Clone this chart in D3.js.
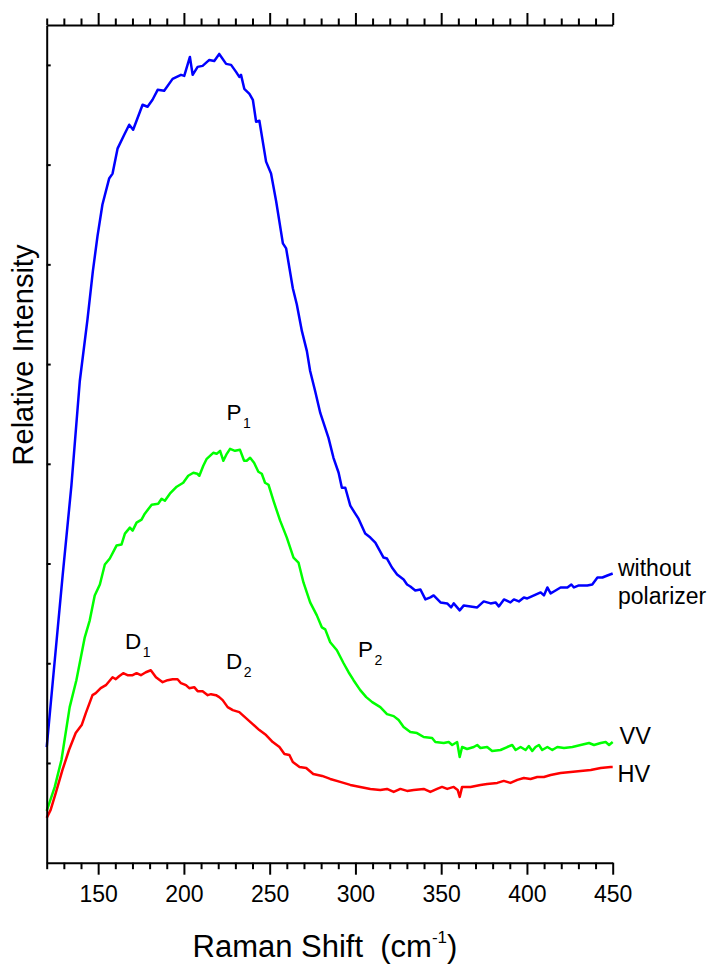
<!DOCTYPE html>
<html><head><meta charset="utf-8">
<script src="https://cdn.jsdelivr.net/npm/d3@7"></script>
<style>body{margin:0;background:#fff}svg{display:block}</style>
</head><body><svg id="c" width="712" height="964"></svg>
<script>
// Raman shift (cm^-1) and relative intensity (arb. units) for each spectrum
const blueShift = [120,124.7,129.3,134.4,139.3,143.8,146.9,149.6,152.5,156.4,158.4,161.3,165.2,168.1,170.4,175.9,178.8,181.7,184.7,188.5,193.4,198.3,200.2,203.5,205.1,208.0,210.9,214.8,217.7,220.6,224.6,227.5,230.4,232.3,233.3,235.2,238.2,240.2,242.1,244.0,247.9,250.8,253.8,257.7,259.6,263.5,265.8,268.8,271.7,273.6,276.5,279.5,284.3,287.2,290.2,292.1,294.1,297.0,299.9,301.8,305.7,308.7,311.6,316.4,318.4,321.3,324.3,328.1,330.1,332.0,334.9,337.9,340.8,343.7,345.6,349.6,353.5,355.8,357.3,360.8,363.2,367.1,371.0,374.8,378.8,381.7,383.6,386.6,390.4,392.4,395.3,398.2,400.2,404.1,408.0,409.9,411.9,413.8,415.7,419.6,423.6,425.9,427.4,430.3,435.2,438.1,441.1,444.0,446.9,450];
const blueInt = [116,203,288,378,483,545,593,628,660,686,691,716,730,740,735,760,758,765,775,774,786,790,789,808,790,798,799,805,804,811,801,800,793,788,790,776,771,765,743,744,703,691,663,621,616,576,560,533,513,493,473,451,426,406,391,376,376,358,350,345,330,326,321,306,305,296,289,284,279,277,273,274,264,266,268,261,260,256,260,253,258,257,256,262,260,261,257,264,261,264,262,266,265,268,271,268,276,270,272,276,276,279,276,278,278,279,286,286,288,290];

const greenShift = [120,124.7,128.6,133.4,137.3,142.2,145.1,148.0,151.0,153.9,156.8,160.7,163.6,165.6,168.5,170.1,172.4,175.3,177.2,181.2,185.0,187.0,188.9,191.8,195.8,199.6,202.5,205.5,207.8,209.0,211.3,213.3,217.1,219.1,221.1,223.0,225.0,226.9,229.8,232.7,235.1,236.6,238.6,240.9,243.4,245.4,247.3,249.3,252.2,256.1,260.0,263.9,266.8,269.7,273.6,277.5,280.4,282.4,285.3,289.2,293.1,296.0,298.9,302.8,306.3,309.8,314.5,318.4,322.3,325.2,328.1,332.0,335.9,339.8,344.7,346.6,351.5,354.4,356.4,359.3,360.8,362.2,365.1,369.0,371.0,372.9,376.8,379.7,384.6,388.5,391.4,393.4,396.3,399.2,401.1,403.1,405.0,407.0,408.9,411.9,414.8,417.7,421.6,426.5,431.3,436.2,439.1,443.0,445.9,447.9,450];
const greenInt = [52,76,103,156,183,226,243,268,279,299,305,318,319,330,336,333,341,344,350,359,360,365,363,370,377,381,388,391,390,388,398,405,411,410,413,403,410,415,413,414,403,403,406,401,392,390,381,379,363,343,326,306,301,281,261,248,236,234,221,213,200,191,183,173,166,161,156,149,147,143,136,131,130,126,125,121,120,121,118,121,106,116,114,116,118,115,116,112,113,116,118,113,116,113,117,112,116,118,113,116,113,116,115,116,118,120,118,120,121,118,121];

const redShift = [120,122.3,125.3,129.2,133.0,136.9,140.4,142.8,146.7,148.6,151.5,154.5,158.4,160.3,162.2,164.6,167.1,170.1,172.4,174.9,177.8,180.7,183.7,187.6,190.5,193.4,196.3,198.3,201.2,203.1,206.0,208.0,210.9,213.9,215.8,218.7,220.6,222.6,225.5,228.5,232.3,236.2,240.1,244.0,247.9,251.8,255.7,258.6,261.5,263.5,267.4,271.3,275.4,280.6,285.3,291.1,297.0,302.8,308.7,314.5,318.4,322.3,326.2,330.1,334.0,339.8,343.7,347.6,350.5,353.5,357.3,359.6,360.8,362.2,367.1,372.9,376.8,382.7,386.5,390.4,394.4,398.2,402.1,406.0,409.9,413.8,419.6,425.5,431.3,437.2,443.0,448.8,450];
const redInt = [45,53,70,93,113,130,138,150,168,170,175,178,186,184,187,190,188,188,190,188,191,193,186,181,183,184,184,180,178,175,176,172,172,168,169,168,166,163,156,153,151,145,139,133,128,121,116,109,108,101,96,95,89,87,84,81,78,76,74,73,74,71,74,72,73,74,71,74,76,74,76,73,66,76,76,78,79,80,82,80,83,85,84,86,86,88,90,91,92,93,95,96,96];

const seriesNames = ["without polarizer", "VV", "HV"];
const xTicks = d3.range(120, 451, 10);
const xTickLabels = [150, 200, 250, 300, 350, 400, 450];
const yTicks = [100, 200, 300, 400, 500, 600, 700, 800];
const xDomain = [120, 450];
const yDomain = [0, 840];

const FONT = "'Liberation Sans', Arial, sans-serif";
const svg = d3.select("#c");
svg.append("rect").attr("width", 712).attr("height", 964).attr("fill", "#fff");

const L = 46.7, R = 612.7, T = 25, B = 862.7;
const x = d3.scaleLinear().domain(xDomain).range([L, R]);
const y = d3.scaleLinear().domain(yDomain).range([B, T]);

const series = [
  {name: seriesNames[0], xs: blueShift, ys: blueInt, color: "#0000ff"},
  {name: seriesNames[1], xs: greenShift, ys: greenInt, color: "#00ff00"},
  {name: seriesNames[2], xs: redShift, ys: redInt, color: "#ff0000"}
];

const line = d3.line().x(d => x(d[0])).y(d => y(d[1]));
series.forEach(s => {
  const pts = s.xs.map((v, i) => [v, s.ys[i]]);
  svg.append("path").datum(pts).attr("d", line)
    .attr("fill", "none").attr("stroke", s.color)
    .attr("stroke-width", 2.5).attr("stroke-linejoin", "round");
});

// bottom axis
const isMajor = v => v % 50 === 0;
const gb = svg.append("g").attr("transform", `translate(0,${B})`)
  .call(d3.axisBottom(x).tickValues(xTicks).tickSizeOuter(0)
    .tickFormat(v => xTickLabels.includes(v) ? String(v) : ""));
gb.select(".domain").attr("stroke", "#000").attr("stroke-width", 2);
gb.selectAll(".tick line").attr("stroke", "#000").attr("stroke-width", 2)
  .attr("y2", d => isMajor(d) ? 12 : 6.5);
gb.selectAll(".tick text").attr("font-family", FONT).attr("font-size", 23)
  .attr("fill", "#000").attr("y", 22.5).attr("dy", "0.71em");

// top axis
const gt = svg.append("g").attr("transform", `translate(0,${T})`)
  .call(d3.axisTop(x).tickValues(xTicks).tickSizeOuter(0).tickFormat(""));
gt.select(".domain").attr("stroke", "#000").attr("stroke-width", 2);
gt.selectAll(".tick line").attr("stroke", "#000").attr("stroke-width", 2)
  .attr("y2", d => isMajor(d) ? -12 : -6.5);

// left axis (inward ticks, no labels)
const gl = svg.append("g").attr("transform", `translate(${L},0)`)
  .call(d3.axisRight(y).tickValues(yTicks).tickSize(4).tickSizeOuter(0).tickFormat(""));
gl.select(".domain").attr("stroke", "#000").attr("stroke-width", 2);
gl.selectAll(".tick line").attr("stroke", "#000").attr("stroke-width", 2);

// axis titles
const xt = svg.append("text").attr("x", 192.5).attr("y", 957)
  .attr("font-family", FONT).attr("font-size", 31).attr("fill", "#000")
  .attr("xml:space", "preserve").style("white-space", "pre");
xt.append("tspan").text("Raman Shift  (cm");
xt.append("tspan").attr("font-size", 17).attr("dy", -14).text("-1");
xt.append("tspan").attr("dy", 14).text(")");

svg.append("text").attr("transform", "translate(33,355) rotate(-90)")
  .attr("text-anchor", "middle").attr("font-family", FONT).attr("font-size", 29)
  .attr("fill", "#000").text("Relative Intensity");

// peak labels with subscripts
function peak(main, sub, px, py) {
  const t = svg.append("text").attr("x", px).attr("y", py)
    .attr("font-family", FONT).attr("font-size", 22.5).attr("fill", "#000");
  t.append("tspan").text(main);
  t.append("tspan").attr("font-size", 14).attr("dx", 1.5).attr("dy", 8).text(sub);
}
peak("P", "1", 226.5, 420);
peak("P", "2", 358, 657);
peak("D", "1", 125, 649);
peak("D", "2", 226, 669);

// series labels
function lab(txt, px, py, size) {
  svg.append("text").attr("x", px).attr("y", py).attr("font-family", FONT)
    .attr("font-size", size).attr("fill", "#000").text(txt);
}
lab("without", 618, 576, 23);
lab("polarizer", 618, 604, 23);
lab(seriesNames[1], 619.5, 744, 23.5);
lab(seriesNames[2], 617.5, 782, 23.5);
</script>
</body></html>
